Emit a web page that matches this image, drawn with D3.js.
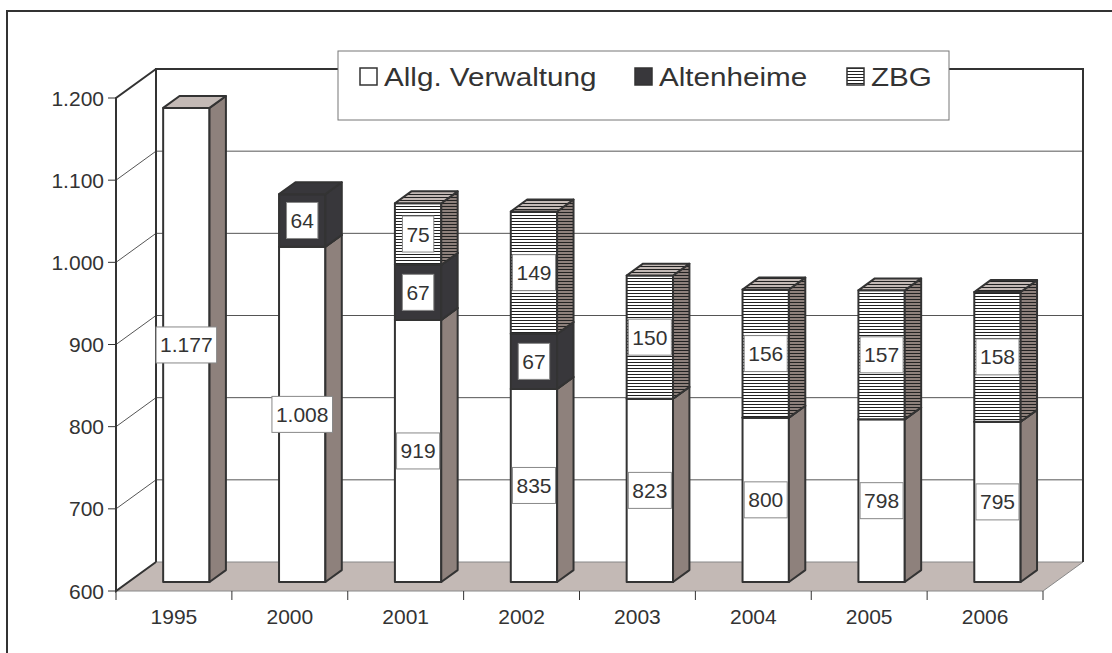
<!DOCTYPE html>
<html>
<head>
<meta charset="utf-8">
<script src="https://cdn.jsdelivr.net/npm/d3@7"></script>
<style>
  body { margin: 0; background: #fff; }
  svg { display: block; font-family: "Liberation Sans", Arial, sans-serif; }
</style>
</head>
<body>
<div class="content"></div>
<script>
(function (window) {
    'use strict';

    var years = ["1995", "2000", "2001", "2002", "2003", "2004", "2005", "2006"],
        allgValues = [1177, 1008, 919, 835, 823, 800, 798, 795],
        altenValues = [0, 64, 67, 67, 0, 0, 0, 0],
        zbgValues = [0, 0, 75, 149, 150, 156, 157, 158],
        seriesNames = ["Allg. Verwaltung", "Altenheime", "ZBG"],
        yTicks = [600, 700, 800, 900, 1000, 1100, 1200];

    var opts = {
            width: 1112,
            height: 653,
            depth: {x: 40, y: -29},
            barFront: 0.31,
            barBack: 0.72,
            barWidth: 0.4,
            dark: "#38373b",
            side: "#8e817c",
            floor: "#c3b9b5",
            line: "#333333",
            text: "#333333"
        },
        fmt = function (v) {
            return d3.format(",")(v).replace(/,/g, ".");
        };

    var svg = d3.select(".content").append("svg")
        .attr("width", opts.width)
        .attr("height", opts.height);

    var x = d3.scaleBand().domain(years).range([116, 1043]).padding(0),
        y = d3.scaleLinear().domain([600, 1200]).range([591, 98]),
        dx = opts.depth.x, dy = opts.depth.y;

    // patterns for the ZBG stripes
    var defs = svg.append("defs");
    [["stripeFront", "#ffffff"], ["stripeSide", opts.side], ["stripeTop", opts.floor]].forEach(function (p) {
        var pat = defs.append("pattern")
            .attr("id", p[0])
            .attr("patternUnits", "userSpaceOnUse")
            .attr("width", 6)
            .attr("height", 3);
        pat.append("rect").attr("width", 6).attr("height", 3).attr("fill", p[1]);
        pat.append("rect").attr("y", 2).attr("width", 6).attr("height", 1).attr("fill", "#222");
    });

    // outer frame
    svg.append("rect")
        .attr("x", 7).attr("y", 11)
        .attr("width", 1300).attr("height", 900)
        .attr("fill", "none")
        .attr("stroke", opts.line)
        .attr("stroke-width", 2);

    var x0 = x.range()[0], x1 = x.range()[1],
        yTop = y(1200), yBot = y(600);

    // floor
    svg.append("path")
        .attr("d", "M" + [x0, yBot] + "L" + [x1, yBot] + "L" + [x1 + dx, yBot + dy] +
            "L" + [x0 + dx, yBot + dy] + "Z")
        .attr("fill", opts.floor)
        .attr("stroke", "#888")
        .attr("stroke-width", 1);

    // grid on back wall and side wall
    svg.selectAll("line.grid").data(yTicks.slice(1, -1)).enter().append("line")
        .attr("class", "grid")
        .attr("x1", x0 + dx).attr("x2", x1 + dx)
        .attr("y1", function (d) { return y(d) + dy; })
        .attr("y2", function (d) { return y(d) + dy; })
        .attr("stroke", "#555").attr("stroke-width", 1);
    svg.selectAll("line.sgrid").data(yTicks.slice(1, -1)).enter().append("line")
        .attr("class", "sgrid")
        .attr("x1", x0).attr("x2", x0 + dx)
        .attr("y1", function (d) { return y(d); })
        .attr("y2", function (d) { return y(d) + dy; })
        .attr("stroke", "#555").attr("stroke-width", 1);

    // walls
    svg.append("path")
        .attr("d", "M" + [x0 + dx, yBot + dy] + "L" + [x0 + dx, yTop + dy] + "L" + [x1 + dx, yTop + dy] +
            "L" + [x1 + dx, yBot + dy])
        .attr("fill", "none").attr("stroke", opts.line).attr("stroke-width", 2);
    svg.append("path")
        .attr("d", "M" + [x0 + dx, yBot + dy] + "L" + [x0, yBot] + "L" + [x0, yTop] + "L" + [x0 + dx, yTop + dy])
        .attr("fill", "none").attr("stroke", opts.line).attr("stroke-width", 2);

    // y axis ticks and labels
    svg.selectAll("line.ytick").data(yTicks).enter().append("line")
        .attr("x1", x0 - 8).attr("x2", x0)
        .attr("y1", y).attr("y2", y)
        .attr("stroke", opts.line).attr("stroke-width", 1);
    svg.selectAll("text.ylab").data(yTicks).enter().append("text")
        .attr("x", x0 - 12)
        .attr("y", function (d) { return y(d) + 7.5; })
        .attr("text-anchor", "end")
        .attr("font-size", "21px")
        .attr("fill", opts.text)
        .text(fmt);

    // x axis ticks and labels
    var bounds = years.map(function (d) { return x(d); }).concat([x1]);
    svg.selectAll("line.xtick").data(bounds).enter().append("line")
        .attr("x1", function (d) { return d; }).attr("x2", function (d) { return d; })
        .attr("y1", yBot).attr("y2", yBot + 9)
        .attr("stroke", opts.line).attr("stroke-width", 1);
    svg.selectAll("text.xlab").data(years).enter().append("text")
        .attr("x", function (d) { return x(d) + x.bandwidth() / 2; })
        .attr("y", 624)
        .attr("text-anchor", "middle")
        .attr("font-size", "21px")
        .attr("fill", opts.text)
        .text(function (d) { return d; });

    // stacked 3d bars
    var fOff = {x: dx * opts.barFront, y: dy * opts.barFront},
        bd = {x: dx * (opts.barBack - opts.barFront), y: dy * (opts.barBack - opts.barFront)},
        bw = x.bandwidth() * opts.barWidth,
        styles = [
            {front: "#ffffff", side: opts.side, top: opts.floor},
            {front: opts.dark, side: opts.dark, top: opts.dark},
            {front: "url(#stripeFront)", side: "url(#stripeSide)", top: "url(#stripeTop)"}
        ];

    var labels = [];
    years.forEach(function (yr, i) {
        var vals = [allgValues[i], altenValues[i], zbgValues[i]],
            cum = 0,
            bx0 = x(yr) + x.bandwidth() / 2 - bw / 2 + fOff.x,
            bx1 = bx0 + bw,
            g = svg.append("g").attr("class", "bar");
        vals.forEach(function (v, s) {
            if (!v) { return; }
            var lo = Math.max(cum, y.domain()[0]),
                hi = cum + v,
                yb = y(lo) + fOff.y,
                yt = y(hi) + fOff.y,
                st = styles[s];
            g.append("path")
                .attr("d", "M" + [bx0, yb] + "L" + [bx1, yb] + "L" + [bx1, yt] + "L" + [bx0, yt] + "Z")
                .attr("fill", st.front).attr("stroke", opts.line).attr("stroke-width", 2)
                .attr("stroke-linejoin", "round");
            g.append("path")
                .attr("d", "M" + [bx1, yb] + "L" + [bx1 + bd.x, yb + bd.y] + "L" + [bx1 + bd.x, yt + bd.y] +
                    "L" + [bx1, yt] + "Z")
                .attr("fill", st.side).attr("stroke", opts.line).attr("stroke-width", 2)
                .attr("stroke-linejoin", "round");
            g.append("path")
                .attr("d", "M" + [bx0, yt] + "L" + [bx1, yt] + "L" + [bx1 + bd.x, yt + bd.y] +
                    "L" + [bx0 + bd.x, yt + bd.y] + "Z")
                .attr("fill", st.top).attr("stroke", opts.line).attr("stroke-width", 2)
                .attr("stroke-linejoin", "round");
            labels.push({x: (bx0 + bx1) / 2, y: (yb + yt) / 2, v: v});
            cum = hi;
        });
    });

    // value labels
    var lg = svg.selectAll("g.vlab").data(labels).enter().append("g")
        .attr("class", "vlab")
        .attr("transform", function (d) { return "translate(" + [d.x, d.y] + ")"; });
    lg.append("rect")
        .attr("fill", "#fff")
        .attr("stroke", "#888")
        .attr("stroke-width", 1);
    var ltext = lg.append("text")
        .attr("text-anchor", "middle")
        .attr("y", 7.5)
        .attr("font-size", "21px")
        .attr("fill", opts.text)
        .text(function (d) { return fmt(d.v); });
    ltext.each(function () {
        var w = this.getComputedTextLength() + 8;
        d3.select(this.parentNode).select("rect")
            .attr("x", -w / 2).attr("y", -18)
            .attr("width", w).attr("height", 36);
    });

    // legend
    var legend = svg.append("g").attr("class", "legend");
    legend.append("rect")
        .attr("x", 338).attr("y", 51)
        .attr("width", 611).attr("height", 69)
        .attr("fill", "#fff").attr("stroke", "#777").attr("stroke-width", 1);
    var legX = [360, 635, 847],
        legFill = ["#ffffff", opts.dark, "url(#stripeFront)"];
    seriesNames.forEach(function (name, i) {
        legend.append("rect")
            .attr("x", legX[i]).attr("y", 68)
            .attr("width", 17).attr("height", 17)
            .attr("fill", legFill[i])
            .attr("stroke", opts.line).attr("stroke-width", 1.5);
        legend.append("text")
            .attr("transform", "translate(" + [legX[i] + 24, 86] + ") scale(1.14,1)")
            .attr("font-size", "26px")
            .attr("fill", opts.text)
            .text(name);
    });
}(window));
</script>
</body>
</html>
